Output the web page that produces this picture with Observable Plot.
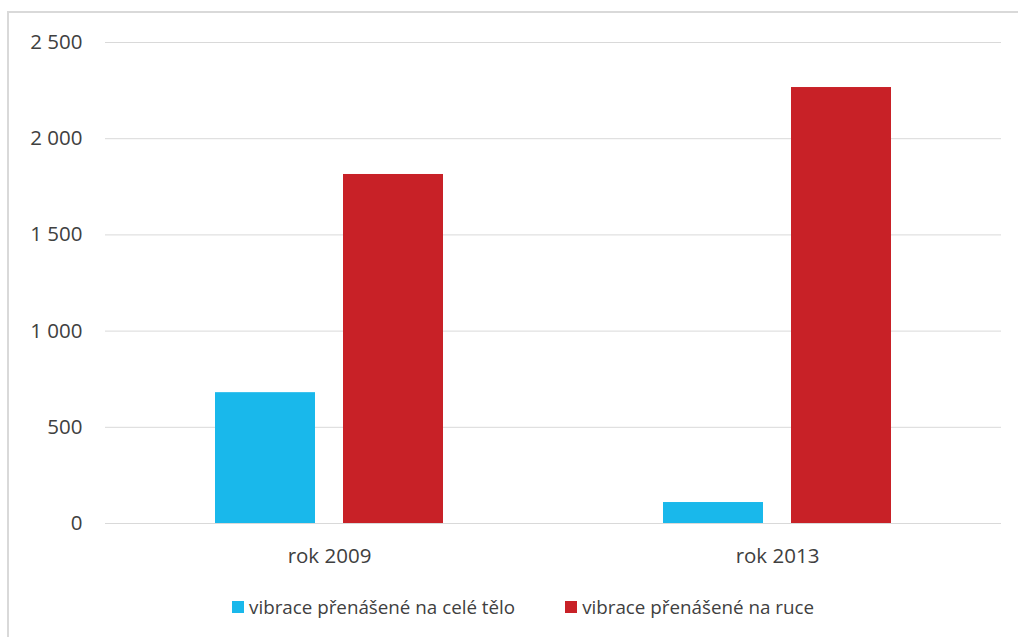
<!DOCTYPE html>
<html>
<head>
<meta charset="utf-8">
<script src="https://cdn.jsdelivr.net/npm/d3@7"></script>
<script src="https://cdn.jsdelivr.net/npm/@observablehq/plot@0.6"></script>
<style>
  body { margin: 0; background: #fff; font-family: "Open Sans", "Noto Sans", sans-serif; }
  #frame { position: absolute; left: 7px; top: 11px; width: 1100px; height: 700px; border: 2px solid #d9d9d9; box-sizing: border-box; }
  #chart { position: absolute; left: 0; top: 0; }
  #chart svg text { font-size: 20.5px; }
  #legend { position: absolute; top: 594px; left: 14px; width: 1018px; display: flex; justify-content: center; gap: 50px; font-size: 18.8px; color: #404040; }
  .item { display: flex; align-items: center; }
  .sw { width: 12px; height: 12px; margin-right: 5px; }
</style>
</head>
<body>
<div id="frame"></div>
<div id="chart"></div>
<div id="legend"></div>
<script>
const years = ["rok 2009", "rok 2013"];
const seriesNames = ["vibrace přenášené na celé tělo", "vibrace přenášené na ruce"];
const wholeBody = [680, 109];
const hands = [1814, 2266];
const colors = ["#19b8eb", "#c82127"];
const yTicks = [0, 500, 1000, 1500, 2000, 2500];

const data = [];
years.forEach((yr, i) => {
  data.push({year: yr, series: seriesNames[0], value: wholeBody[i]});
  data.push({year: yr, series: seriesNames[1], value: hands[i]});
});

const fmt = d3.formatLocale({thousands: " ", grouping: [3], decimal: ","}).format(",");

const chart = Plot.plot({
  width: 1018,
  height: 580,
  marginTop: 42,
  marginBottom: 57,
  marginLeft: 104,
  marginRight: 17,
  style: {fontFamily: "'Open Sans', 'Noto Sans', sans-serif", fontSize: "20.5px", color: "#404040", background: "transparent"},
  fx: {domain: years, padding: 0, label: null},
  x: {domain: seriesNames, paddingInner: 0.21875, paddingOuter: 0.859, axis: null},
  y: {domain: [0, 2500], ticks: yTicks, label: null},
  color: {domain: seriesNames, range: colors},
  marks: [
    Plot.gridY(yTicks, {stroke: "#d9d9d9", strokeOpacity: 1}),
    Plot.axisY(yTicks, {tickSize: 0, tickPadding: 23, tickFormat: fmt, label: null}),
    Plot.axisFx({anchor: "bottom", tickSize: 0, tickPadding: 25, label: null}),
    Plot.barY(data, {fx: "year", x: "series", y: "value", fill: "series"})
  ]
});
document.getElementById("chart").appendChild(chart);

const legend = document.getElementById("legend");
seriesNames.forEach((s, i) => {
  const it = document.createElement("div");
  it.className = "item";
  const sw = document.createElement("div");
  sw.className = "sw";
  sw.style.background = colors[i];
  const t = document.createElement("span");
  t.textContent = s;
  it.appendChild(sw);
  it.appendChild(t);
  legend.appendChild(it);
});
</script>
</body>
</html>
